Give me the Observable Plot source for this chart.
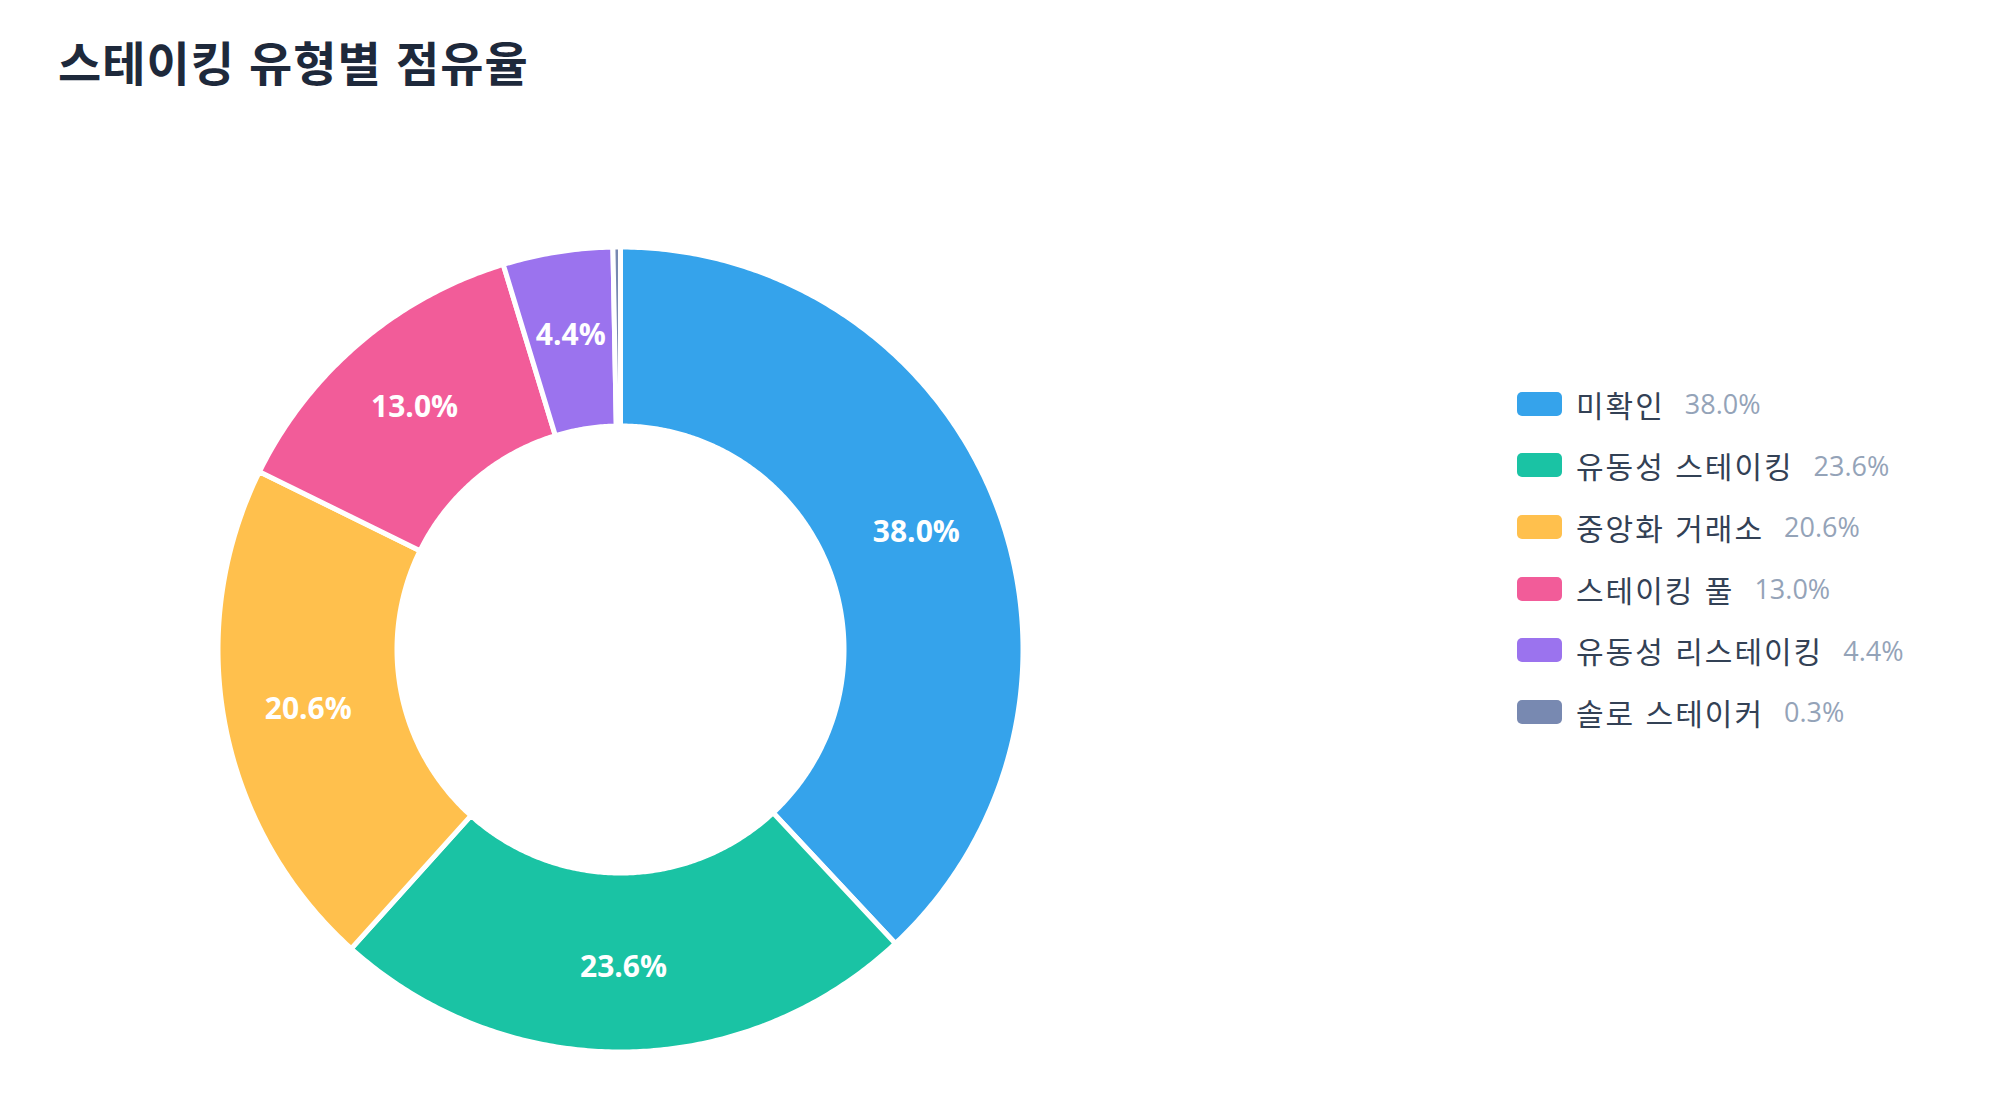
<!DOCTYPE html>
<html lang="ko">
<head>
<meta charset="utf-8">
<script src="https://cdn.jsdelivr.net/npm/d3@7"></script>
<script src="https://cdn.jsdelivr.net/npm/@observablehq/plot@0.6"></script>
<style>
  html, body { margin: 0; padding: 0; background: #ffffff; }
  body { width: 2000px; height: 1120px; position: relative; overflow: hidden;
         font-family: "Open Sans", "Noto Sans CJK KR", sans-serif; }
  #title { position: absolute; left: 58px; top: 37px; font-size: 47px; line-height: 1;
           font-weight: 700; color: #1e293b; font-family: "Noto Sans CJK KR", sans-serif;
           letter-spacing: 1px; white-space: nowrap; }
  #chart { position: absolute; left: 0; top: 0; }
  #legend { position: absolute; left: 1517px; top: 373px; }
  .row { height: 61.6px; display: flex; align-items: center; white-space: nowrap; }
  .sw { width: 45px; height: 24px; border-radius: 5px; margin-right: 14px; }
  .lab { font-size: 30px; color: #334155; font-family: "Noto Sans CJK KR", sans-serif; letter-spacing: 2px; }
  .val { font-size: 27px; color: #94a3b8; margin-left: 20px; font-family: "Open Sans", sans-serif; }
</style>
</head>
<body>
<div id="title"></div>
<div id="chart"></div>
<div id="legend"></div>
<script>
const titleText = "스테이킹 유형별 점유율";
const categories = ["미확인", "유동성 스테이킹", "중앙화 거래소", "스테이킹 풀", "유동성 리스테이킹", "솔로 스테이커"];
const shares = [38.0, 23.6, 20.6, 13.0, 4.4, 0.3];
const colors = ["#35a3eb", "#1ac3a4", "#ffc04d", "#f25c99", "#9b73ee", "#7889b1"];

document.getElementById("title").textContent = titleText;

const W = 2000, H = 1120, cx = 620, cy = 649;
const rOuter = 402.5, rInner = 223.5, rLabel = 318;
const total = d3.sum(shares);

// angles (clockwise from 12 o'clock)
let acc = 0;
const slices = categories.map((c, i) => {
  const a0 = acc / total * 2 * Math.PI;
  acc += shares[i];
  const a1 = acc / total * 2 * Math.PI;
  return {label: c, value: shares[i], a0, a1, mid: (a0 + a1) / 2};
});

// ring polygons sampled along the arcs
const ringPts = [];
for (const s of slices) {
  const n = Math.max(2, Math.ceil((s.a1 - s.a0) / (Math.PI / 360)));
  for (let k = 0; k <= n; k++) {
    const a = s.a0 + (s.a1 - s.a0) * k / n;
    ringPts.push({label: s.label, x: rOuter * Math.sin(a), y: rOuter * Math.cos(a)});
  }
  for (let k = n; k >= 0; k--) {
    const a = s.a0 + (s.a1 - s.a0) * k / n;
    ringPts.push({label: s.label, x: rInner * Math.sin(a), y: rInner * Math.cos(a)});
  }
}

const labelData = slices.filter(s => s.value >= 1).map(s => ({
  text: s.value.toFixed(1) + "%",
  x: rLabel * Math.sin(s.mid),
  y: rLabel * Math.cos(s.mid)
}));

const chart = Plot.plot({
  width: W, height: H,
  margin: 0,
  x: {domain: [-cx, W - cx], axis: null},
  y: {domain: [-(H - cy), cy], axis: null},
  color: {domain: categories, range: colors},
  marks: [
    Plot.line(ringPts, {x: "x", y: "y", z: "label", fill: "label", stroke: "white",
      strokeWidth: 5, strokeLinejoin: "round", curve: "linear-closed"}),
    Plot.text(labelData, {x: "x", y: "y", text: "text", fill: "white", fontSize: 30,
      fontWeight: 700, fontFamily: "'Open Sans', sans-serif"})
  ]
});
document.getElementById("chart").appendChild(chart);

const legend = document.getElementById("legend");
categories.forEach((c, i) => {
  const row = document.createElement("div");
  row.className = "row";
  const sw = document.createElement("div"); sw.className = "sw"; sw.style.background = colors[i];
  const lab = document.createElement("span"); lab.className = "lab"; lab.textContent = c;
  const val = document.createElement("span"); val.className = "val"; val.textContent = shares[i].toFixed(1) + "%";
  row.append(sw, lab, val);
  legend.appendChild(row);
});
</script>
</body>
</html>
